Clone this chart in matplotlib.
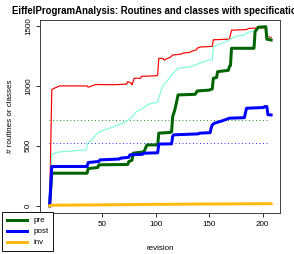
import matplotlib
matplotlib.use("Agg")
import matplotlib.pyplot as plt

plt.rcParams['font.family'] = ['Liberation Sans', 'DejaVu Sans']

# all routines (red)
red_x = [1, 3, 5, 8, 10, 36, 37, 39, 44, 60, 73, 74, 77, 78, 80, 86, 87, 101, 102, 103,
         107, 108, 110, 114, 116, 124, 126, 132, 134, 138, 139, 142, 153, 154, 169, 171,
         185, 187, 203, 205, 208]
red_y = [0, 967, 980, 990, 1000, 1000, 990, 995, 1012, 1010, 1015, 1036, 1025, 1008, 1064,
         1064, 1080, 1085, 1092, 1230, 1230, 1215, 1225, 1240, 1258, 1265, 1275, 1280, 1290,
         1300, 1315, 1325, 1330, 1385, 1390, 1465, 1470, 1480, 1485, 1410, 1405]

# classes (aquamarine)
aqua_x = [1, 3, 10, 20, 35, 37, 40, 45, 48, 55, 65, 72, 78, 82, 86, 88, 93, 102, 104, 107,
          110, 115, 121, 133, 141, 150, 153, 154, 158, 166, 174, 183, 186, 194, 197, 200,
          204, 205, 208]
aqua_y = [0, 430, 450, 455, 467, 530, 545, 600, 619, 640, 675, 700, 740, 786, 800, 814, 847,
          864, 930, 1008, 1030, 1092, 1147, 1161, 1189, 1217, 1220, 1328, 1342, 1370, 1411,
          1425, 1447, 1460, 1480, 1494, 1494, 1400, 1395]

# pre
pre_x = [1, 3, 36, 37, 46, 47, 74, 75, 78, 79, 89, 90, 91, 92, 102, 103, 114, 115, 116, 118,
         120, 121, 137, 139, 150, 153, 154, 157, 158, 168, 169, 170, 171, 192, 193, 196, 203,
         204, 208]
pre_y = [0, 272, 272, 310, 320, 342, 345, 369, 380, 439, 450, 467, 490, 508, 508, 606, 612,
         619, 744, 800, 880, 925, 930, 958, 965, 975, 1064, 1070, 1119, 1130, 1161, 1170,
         1314, 1314, 1453, 1490, 1494, 1390, 1383]

# post
post_x = [1, 3, 36, 37, 47, 48, 66, 67, 75, 76, 88, 89, 102, 103, 115, 116, 117, 140, 141,
          151, 152, 153, 155, 163, 169, 183, 185, 201, 202, 204, 205, 208]
post_y = [0, 328, 328, 361, 370, 383, 390, 397, 405, 425, 430, 439, 442, 515, 517, 580, 592,
          600, 606, 610, 650, 675, 689, 711, 731, 735, 814, 820, 828, 828, 760, 758]

# inv
inv_x = [1, 3, 50, 100, 150, 208]
inv_y = [0, 5, 8, 12, 15, 18]

# reference levels (dotted)
ref_pre = 715
ref_post = 520
ref_x = [0, 206]

W, H = 294, 254
fig = plt.figure(figsize=(W / 72, H / 72), dpi=72)
ax = fig.add_axes([40 / W, (H - 213) / H, 240 / W, 193 / H])

ax.plot(ref_x, [ref_pre, ref_pre], color='#2e9a2e', lw=1, linestyle=(0, (1, 2.5)))
ax.plot(ref_x, [ref_post, ref_post], color='#3333ff', lw=1, linestyle=(0, (1, 2.5)))
ax.plot(red_x, red_y, color='red', lw=1.2)
ax.plot(aqua_x, aqua_y, color='#7FFFD4', lw=1.2)
ax.plot(pre_x, pre_y, color='#006400', lw=3)
ax.plot(post_x, post_y, color='blue', lw=3)
ax.plot(inv_x, inv_y, color='#FFB90F', lw=3)

ax.set_xlim(-8, 216.3)
ax.set_ylim(-60, 1550)
ax.set_xticks([0, 50, 100, 150, 200])
ax.set_yticks([0, 500, 1000, 1500])
ax.tick_params(axis='both', labelsize=8, length=4, width=0.8, direction='out')
ax.tick_params(axis='x', pad=4)
ax.tick_params(axis='y', pad=4)
for lab in ax.get_yticklabels():
    lab.set_rotation(90)
    lab.set_va('center')
for s in ax.spines.values():
    s.set_linewidth(0.9)
    s.set_color('#333333')

# the title runs past the right edge, as in the original figure
fig.text(160 / W, 1 - 11 / H, 'EiffelProgramAnalysis: Routines and classes with specifications',
         ha='center', va='center', fontsize=9.6, fontweight='bold')
fig.text(160 / W, 1 - 248 / H, 'revision', ha='center', va='center', fontsize=8)
fig.text(11 / W, 1 - 116 / H, '# routines or classes', ha='center', va='center',
         fontsize=8, rotation=90)

handles = [plt.Line2D([], [], color='#006400', lw=3),
           plt.Line2D([], [], color='blue', lw=3),
           plt.Line2D([], [], color='#FFB90F', lw=3)]
leg = fig.legend(handles, ['pre', 'post', 'inv'], loc='upper left',
                 bbox_to_anchor=(2 / W, 1 - 212 / H), borderaxespad=0, fontsize=8,
                 frameon=True, fancybox=False, framealpha=1, edgecolor='black',
                 handlelength=2.5, handletextpad=0.8, labelspacing=0.42, borderpad=0.6)
leg.get_frame().set_linewidth(0.9)

fig.savefig('out.png', dpi=72)
